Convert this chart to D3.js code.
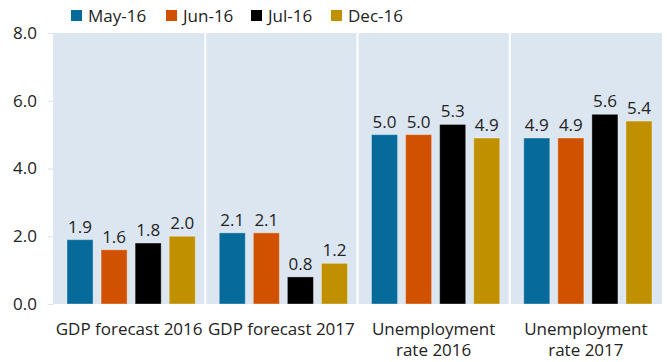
<!DOCTYPE html>
<html>
<head>
<meta charset="utf-8">
<script src="https://cdn.jsdelivr.net/npm/d3@7"></script>
<style>
  html, body { margin: 0; padding: 0; background: #fff; }
  svg { display: block; font-family: "Open Sans", "Noto Sans", sans-serif; }
</style>
</head>
<body>
<svg id="chart" width="667" height="362"></svg>
<script>
// Forecast vintages and the indicators they cover
const categories = [["GDP forecast 2016"], ["GDP forecast 2017"], ["Unemployment", "rate 2016"], ["Unemployment", "rate 2017"]];
const seriesNames = ["May-16", "Jun-16", "Jul-16", "Dec-16"];
const may16 = [1.9, 2.1, 5.0, 4.9];
const jun16 = [1.6, 2.1, 5.0, 4.9];
const jul16 = [1.8, 0.8, 5.3, 5.6];
const dec16 = [2.0, 1.2, 4.9, 5.4];
const yTicks = [0, 2, 4, 6, 8];

const seriesValues = [may16, jun16, jul16, dec16];
const colors = ["#066a9b", "#d05200", "#000000", "#c09000"];
const FS = 17;

const svg = d3.select("#chart");
const margin = { left: 53, right: 5, top: 33, bottom: 58 };
const W = 667, H = 362;

const x0 = d3.scaleBand().domain(d3.range(categories.length)).range([margin.left, W - margin.right]);
const x1 = d3.scaleBand().domain(d3.range(seriesNames.length)).range([14, x0.bandwidth() - 10]).paddingInner(0.235);
const y = d3.scaleLinear().domain([0, 8]).range([H - margin.bottom, margin.top]);

// Plot background
svg.append("rect")
  .attr("x", margin.left).attr("y", y(8))
  .attr("width", W - margin.right - margin.left).attr("height", y(0) - y(8))
  .attr("fill", "#dce6f1");

// White separators between indicator groups
svg.selectAll("line.sep").data(d3.range(1, categories.length)).join("line")
  .attr("class", "sep")
  .attr("x1", d => x0(d)).attr("x2", d => x0(d))
  .attr("y1", y(8)).attr("y2", y(0))
  .attr("stroke", "#fff").attr("stroke-width", 2);

// Y axis
const yAxis = d3.axisLeft(y).tickValues(yTicks).tickFormat(d3.format(".1f")).tickSize(5).tickPadding(11);
const ya = svg.append("g").attr("transform", `translate(${margin.left},0)`).call(yAxis);
ya.select(".domain").remove();
ya.selectAll(".tick line").attr("stroke", "#d9e2ee");
ya.selectAll(".tick text").attr("font-size", FS).attr("fill", "#222").attr("font-family", "'Open Sans', sans-serif");

// Bars
const groups = svg.selectAll("g.grp").data(categories).join("g")
  .attr("class", "grp")
  .attr("transform", (d, i) => `translate(${x0(i)},0)`);

groups.each(function(c, ci) {
  const g = d3.select(this);
  seriesValues.forEach((vals, si) => {
    const v = vals[ci];
    g.append("rect")
      .attr("x", x1(si)).attr("y", y(v))
      .attr("width", x1.bandwidth()).attr("height", y(0) - y(v))
      .attr("fill", colors[si])
      .attr("stroke", "rgba(255,255,255,0.35)").attr("stroke-width", 1);
    g.append("text")
      .attr("x", x1(si) + x1.bandwidth() / 2).attr("y", y(v) - 7)
      .attr("text-anchor", "middle")
      .attr("font-size", FS).attr("fill", "#222")
      .text(v.toFixed(1));
  });
  // Category label (one or two lines)
  const t = g.append("text")
    .attr("text-anchor", "middle")
    .attr("font-size", FS).attr("fill", "#222");
  c.forEach((line, li) => {
    t.append("tspan").attr("x", x0.bandwidth() / 2).attr("y", 335 + li * 21).text(line);
  });
});

// Legend
const legendX = [71, 166, 251, 331];
const lg = svg.selectAll("g.leg").data(seriesNames).join("g")
  .attr("class", "leg")
  .attr("transform", (d, i) => `translate(${legendX[i]},10)`);
lg.append("rect").attr("width", 11).attr("height", 11).attr("fill", (d, i) => colors[i]);
lg.append("text").attr("x", 17).attr("y", 12).attr("font-size", FS).attr("fill", "#222").text(d => d);
</script>
</body>
</html>
